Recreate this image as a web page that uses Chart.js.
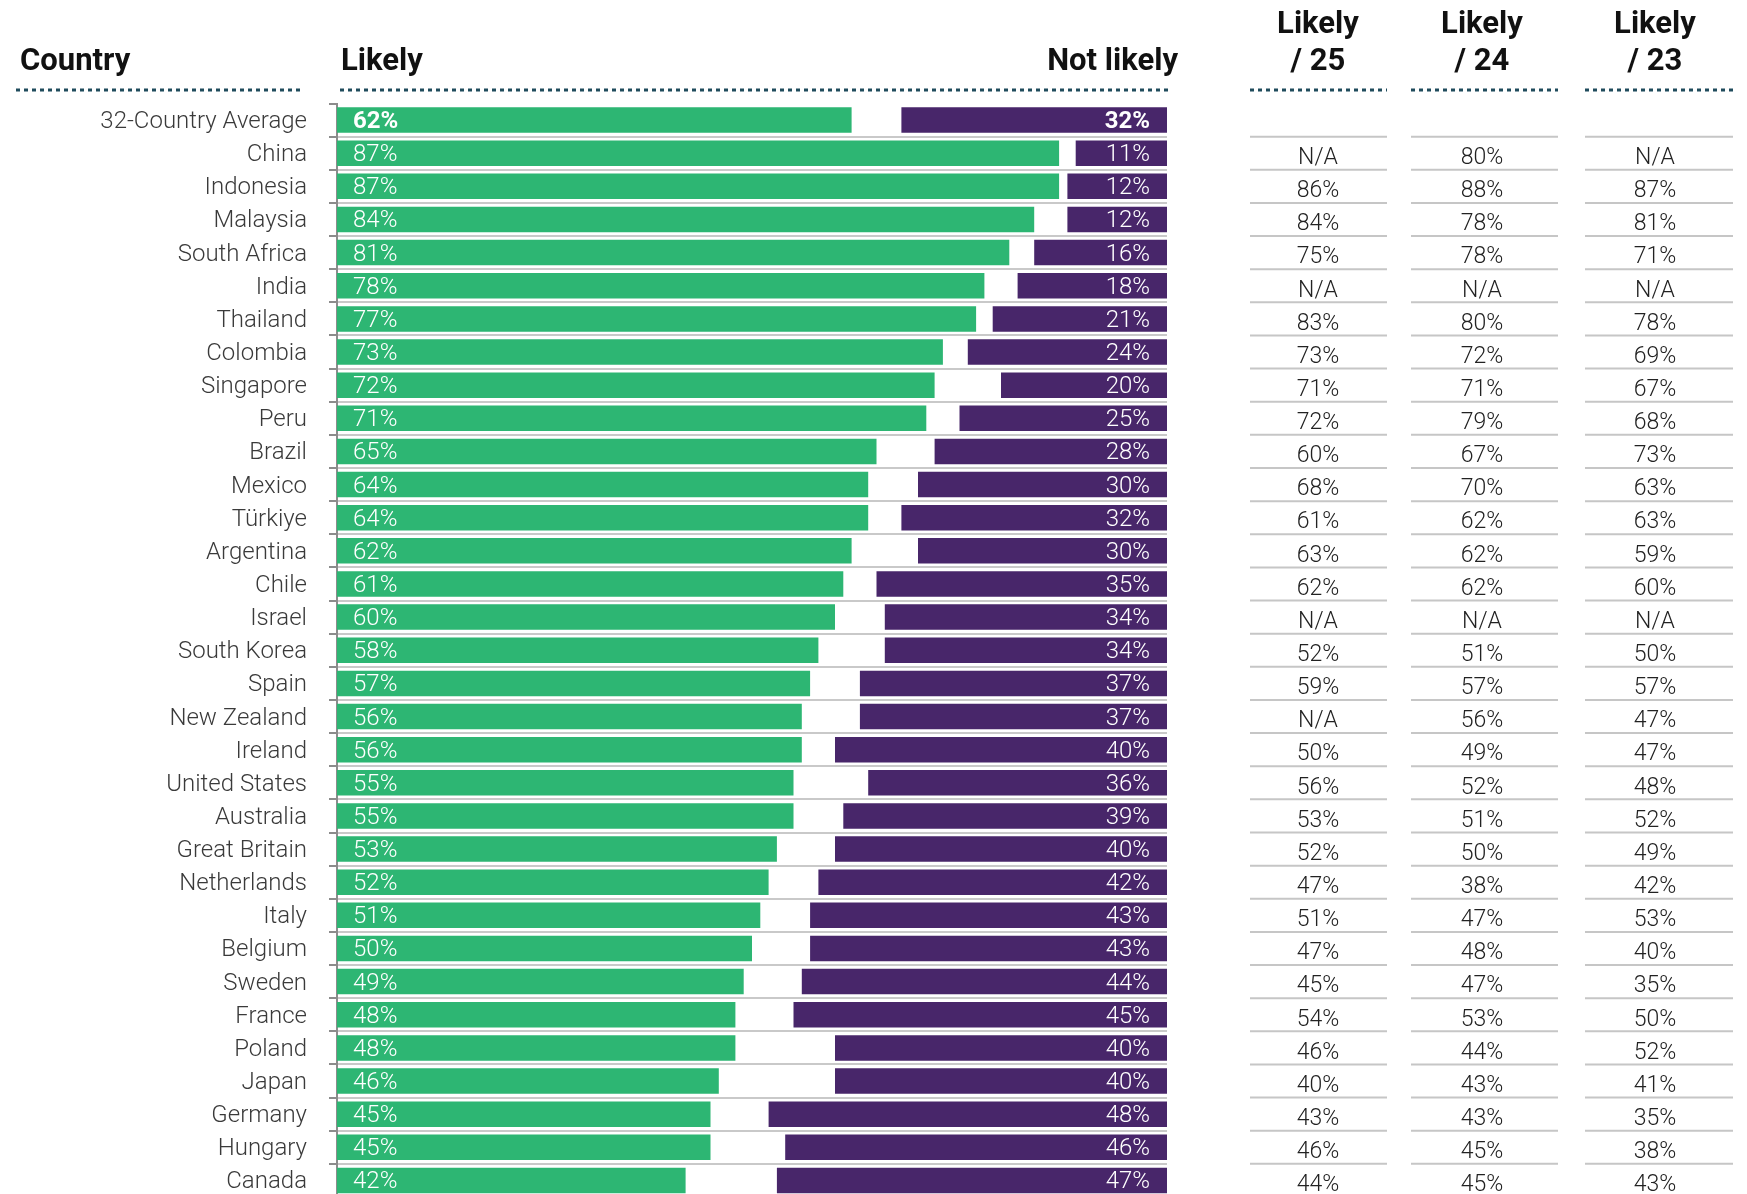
<!DOCTYPE html>
<html>
<head>
<meta charset="utf-8">
<title>Likely / Not likely by country</title>
<style>
  html, body { margin: 0; padding: 0; background: #fff; overflow: hidden; }
  #wrap { width: 1747px; height: 1197px; }
</style>
<script src="https://cdn.jsdelivr.net/npm/chart.js@4.4.1/dist/chart.umd.min.js"></script>
</head>
<body>
<div id="wrap"><canvas id="myChart" width="1747" height="1197"></canvas></div>
<script>
const countries = [
  "32-Country Average", "China", "Indonesia", "Malaysia", "South Africa", "India",
  "Thailand", "Colombia", "Singapore", "Peru", "Brazil", "Mexico", "Türkiye",
  "Argentina", "Chile", "Israel", "South Korea", "Spain", "New Zealand", "Ireland",
  "United States", "Australia", "Great Britain", "Netherlands", "Italy", "Belgium",
  "Sweden", "France", "Poland", "Japan", "Germany", "Hungary", "Canada"
];
const likely = [62, 87, 87, 84, 81, 78, 77, 73, 72, 71, 65, 64, 64, 62, 61, 60, 58, 57, 56, 56, 55, 55, 53, 52, 51, 50, 49, 48, 48, 46, 45, 45, 42];
const notLikely = [32, 11, 12, 12, 16, 18, 21, 24, 20, 25, 28, 30, 32, 30, 35, 34, 34, 37, 37, 40, 36, 39, 40, 42, 43, 43, 44, 45, 40, 40, 48, 46, 47];

// past waves, one entry per country (the average row has none); null = N/A
const likely25 = [null, 86, 84, 75, null, 83, 73, 71, 72, 60, 68, 61, 63, 62, null, 52, 59, null, 50, 56, 53, 52, 47, 51, 47, 45, 54, 46, 40, 43, 46, 44];
const likely24 = [80, 88, 78, 78, null, 80, 72, 71, 79, 67, 70, 62, 62, 62, null, 51, 57, 56, 49, 52, 51, 50, 38, 47, 48, 47, 53, 44, 43, 43, 45, 45];
const likely23 = [null, 87, 81, 71, null, 78, 69, 67, 68, 73, 63, 63, 59, 60, null, 50, 57, 47, 47, 48, 52, 49, 42, 53, 40, 35, 50, 52, 41, 35, 38, 43];

const GREEN = "#2db673";
const PURPLE = "#48266a";
const DOTS = "#1f4b5c";
const FONT = "Roboto";

const tableCols = [
  { title: "/ 25", values: likely25, cx: 1318, x0: 1250, x1: 1387 },
  { title: "/ 24", values: likely24, cx: 1482, x0: 1411, x1: 1558 },
  { title: "/ 23", values: likely23, cx: 1655, x0: 1585, x1: 1733 }
];

function dottedLine(ctx, x0, x1, y) {
  ctx.save();
  ctx.strokeStyle = DOTS;
  ctx.lineWidth = 3;
  ctx.setLineDash([4, 4]);
  ctx.beginPath();
  ctx.moveTo(x0, y);
  ctx.lineTo(x1, y);
  ctx.stroke();
  ctx.restore();
}

/* labels inside the bars */
const barLabels = {
  id: "barLabels",
  afterDatasetsDraw(chart) {
    const { ctx, chartArea } = chart;
    const greenBars = chart.getDatasetMeta(0).data;
    const purpleBars = chart.getDatasetMeta(1).data;
    ctx.save();
    ctx.fillStyle = "#fff";
    ctx.textBaseline = "middle";
    greenBars.forEach((bar, i) => {
      ctx.font = (i === 0 ? "700 " : "300 ") + "24px " + FONT;
      ctx.textAlign = "left";
      ctx.fillText(likely[i] + "%", chartArea.left + 16, bar.y + 2);
      ctx.textAlign = "right";
      ctx.fillText(notLikely[i] + "%", purpleBars[i].x - 17, bar.y + 2);
    });
    ctx.restore();
  }
};

/* headers, dotted rules and the table of past waves */
const headersAndTable = {
  id: "headersAndTable",
  afterDraw(chart) {
    const { ctx, scales: { y } } = chart;
    const pitch = y.getPixelForValue(1) - y.getPixelForValue(0);

    ctx.save();
    ctx.fillStyle = "#111";
    ctx.font = "700 31px " + FONT;
    ctx.textBaseline = "alphabetic";
    ctx.textAlign = "left";
    ctx.fillText("Country", 20, 70);
    ctx.fillText("Likely", 341, 70);
    ctx.textAlign = "right";
    ctx.fillText("Not likely", 1178, 70);
    ctx.textAlign = "center";
    tableCols.forEach(col => {
      ctx.fillText("Likely", col.cx, 33);
      ctx.fillText(col.title, col.cx, 70);
    });
    ctx.restore();

    dottedLine(ctx, 16, 301, 90);
    dottedLine(ctx, 340, 1168, 90);
    tableCols.forEach(col => dottedLine(ctx, col.x0, col.x1, 90));

    ctx.save();
    ctx.strokeStyle = "#c6c6c6";
    ctx.lineWidth = 2;
    ctx.font = "300 23px " + FONT;
    ctx.fillStyle = "#222";
    ctx.textAlign = "center";
    ctx.textBaseline = "middle";
    tableCols.forEach(col => {
      col.values.forEach((v, k) => {
        const row = k + 1;
        const cy = y.getPixelForValue(row);
        const top = cy - pitch / 2;
        ctx.beginPath();
        ctx.moveTo(col.x0, top);
        ctx.lineTo(col.x1, top);
        ctx.stroke();
        ctx.fillText(v === null ? "N/A" : v + "%", col.cx, cy + 5);
      });
    });
    ctx.restore();
  }
};

const ctx = document.getElementById("myChart").getContext("2d");

new Chart(ctx, {
  type: "bar",
  data: {
    labels: countries,
    datasets: [
      {
        label: "Likely",
        data: likely.map(v => [0, v]),
        backgroundColor: GREEN,
        barPercentage: 0.77,
        categoryPercentage: 1,
        grouped: false
      },
      {
        label: "Not likely",
        data: notLikely.map(v => [100 - v, 100]),
        backgroundColor: PURPLE,
        barPercentage: 0.77,
        categoryPercentage: 1,
        grouped: false
      }
    ]
  },
  options: {
    indexAxis: "y",
    responsive: false,
    animation: false,
    layout: { padding: { top: 103.5, right: 580, bottom: 0, left: 0 } },
    plugins: {
      legend: { display: false },
      tooltip: { enabled: false }
    },
    scales: {
      x: { type: "linear", min: 0, max: 100, display: false },
      y: {
        grid: {
          color: c => (c.index === 0 ? "rgba(0,0,0,0)" : "#c9c9c9"),
          lineWidth: 2,
          drawTicks: true,
          tickLength: 8,
          tickColor: "#8c8c8c",
          tickWidth: 2
        },
        border: { color: "#8c8c8c", width: 2 },
        ticks: {
          autoSkip: false,
          padding: 22,
          labelOffset: 2,
          color: "#3a3a3a",
          font: { family: FONT, size: 24, weight: 300 }
        },
        afterFit(scale) {
          scale.width = 337;
          scale.paddingTop = 0;
          scale.paddingBottom = 0;
        }
      }
    }
  },
  plugins: [barLabels, headersAndTable]
});
</script>
</body>
</html>
